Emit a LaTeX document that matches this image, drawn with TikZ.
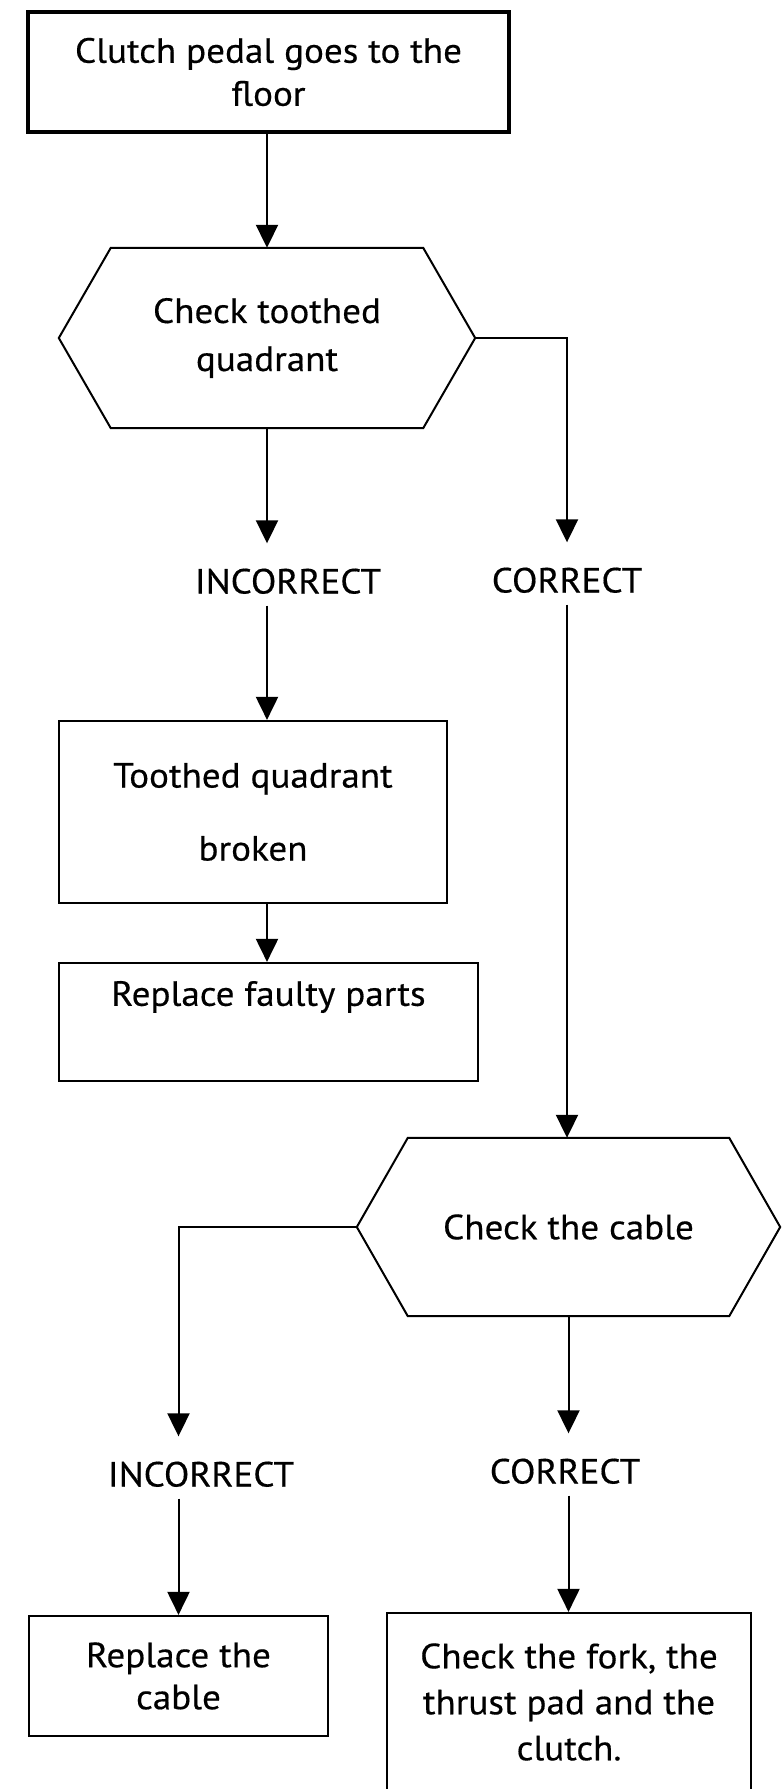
\documentclass[tikz,border=0pt]{standalone}
\usepackage{fontspec}
\setmainfont{PT Sans}[FakeStretch=1.06,FakeBold=0.4]
\usetikzlibrary{arrows.meta,calc}
\begin{document}
\begin{tikzpicture}[x=1pt,y=-1pt,
  font=\fontsize{35}{44}\selectfont,
  box/.style={draw, line width=2.2pt, align=center, inner sep=0pt},
  hexnode/.style={inner sep=0pt, align=center},
  hexline/.style={line width=2pt, line join=miter},
  lbl/.style={inner xsep=0pt, inner ysep=12pt, text height=25pt, text depth=0pt},
  conn/.style={line width=2pt},
  arr/.style={conn, -{Triangle[length=23pt,width=22pt]}},
  tolbl/.style={arr, shorten >=13pt}]
\useasboundingbox (0,0) rectangle (784,1789);

% top box
\node[box, line width=4.5pt, minimum width=481pt, minimum height=120pt] (top) at (268.5,72) {Clutch pedal goes to the\\[-1pt]floor};

% first hexagon
\node[hexnode, minimum width=416pt, minimum height=180pt] (h1) at (267,338) {Check toothed\\[4pt]quadrant};
\draw[hexline] ($(h1.north west)+(52,0)$) -- ($(h1.north east)+(-52,0)$) -- (h1.east) -- ($(h1.south east)+(-52,0)$) -- ($(h1.south west)+(52,0)$) -- (h1.west) -- cycle;

\node[lbl] (l1) at (288,581) {INCORRECT};
\node[lbl] (c1) at (567,580) {CORRECT};

\node[box, minimum width=388pt, minimum height=182pt] (b1) at (253,812) {Toothed quadrant\\[29pt]broken};
\node[box, minimum width=419pt, minimum height=118pt] (b2) at (268.5,1022) {Replace faulty parts\\\strut};

% second hexagon
\node[hexnode, minimum width=423pt, minimum height=178pt] (h2) at (568.5,1227) {Check the cable};
\draw[hexline] ($(h2.north west)+(51,0)$) -- ($(h2.north east)+(-51,0)$) -- (h2.east) -- ($(h2.south east)+(-51,0)$) -- ($(h2.south west)+(51,0)$) -- (h2.west) -- cycle;

\node[lbl] (l3) at (201,1474) {INCORRECT};
\node[lbl] (c3) at (565,1471) {CORRECT};

\node[box, minimum width=299pt, minimum height=120pt] (b3) at (178.5,1676) {Replace the\\[-2pt]cable};
\node[box, minimum width=364pt, minimum height=178pt] (b4) at (569,1702) {Check the fork, the\\[2pt]thrust pad and the\\[2pt]clutch.};

% connectors
\draw[arr] (top.south -| h1.north) -- (h1.north);
\draw[tolbl] (h1.south) -- (h1.south |- l1.north);
\draw[tolbl] (h1.east) -| (c1.north);
\draw[arr] (h1.south |- l1.south) -- (h1.south |- b1.north);
\draw[arr] (b1.south -| h1.south) -- (b2.north -| h1.south);
\draw[arr] (c1.south) -- (c1.south |- h2.north);
\draw[tolbl] (h2.west) -| (b3.north |- l3.north);
\draw[arr] (b3.north |- l3.south) -- (b3.north);
\draw[tolbl] (h2.south) -- (h2.south |- c3.north);
\draw[arr] (h2.south |- c3.south) -- (h2.south |- b4.north);
\end{tikzpicture}
\end{document}
